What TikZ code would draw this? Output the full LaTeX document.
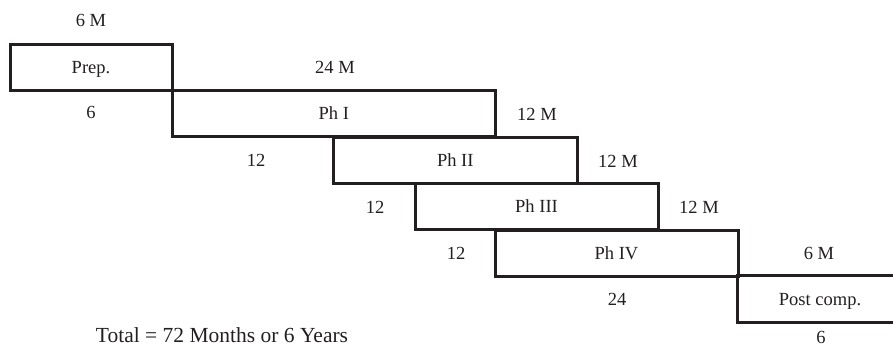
\documentclass[tikz,border=0pt]{standalone}
\usepackage{fontspec}
\setmainfont{Liberation Serif}
\definecolor{ink}{HTML}{231F20}
\begin{document}
\begin{tikzpicture}[x=1pt,y=-1pt,
  lbl/.style={inner sep=0pt, text=ink, font=\fontsize{18.5}{20}\selectfont,
    text height=12.3pt, text depth=0pt},
  phase/.style={lbl, draw=ink, line width=3pt, minimum width=#1, minimum height=46pt},
  openbox/.style={lbl, minimum width=#1, minimum height=46pt},
  edge/.style={draw=ink, line width=3pt}
]
\useasboundingbox (0,0) rectangle (893,346);
% phase boxes
\node[phase=162pt]   (prep) at (91,67)      {Prep.};
\node[phase=323.5pt] (ph1)  at (333.75,113.5) {Ph I};
\node[phase=243.5pt] (ph2)  at (455.25,160) {Ph II};
\node[phase=243pt]   (ph3)  at (536.5,206.5) {Ph III};
\node[phase=243pt]   (ph4)  at (616.5,253)  {Ph IV};
\node[openbox=155pt] (post) at (815.5,299)  {\hspace*{9pt}Post comp.};
\draw[edge] (post.north east) -- (post.north west) -- (post.south west) -- (post.south east);
% duration labels
\node[lbl] (m1) at (91,20)    {6 M};
\node[lbl] (d1) at (91,112)   {6};
\node[lbl] (m2) at (335,67.5) {24 M};
\node[lbl] (d2) at (256,160)  {12};
\node[lbl] (m3) at (537,114)  {12 M};
\node[lbl] (d3) at (375,207)  {12};
\node[lbl] (m4) at (618,161)  {12 M};
\node[lbl] (d4) at (456,253)  {12};
\node[lbl] (m5) at (699,207)  {12 M};
\node[lbl] (d5) at (617,299)  {24};
\node[lbl] (m6) at (819,253)  {6 M};
\node[lbl] (d6) at (821,337)  {6};
\node[lbl, font=\fontsize{21.5}{23}\selectfont] (total) at (222,336.5) {Total = 72 Months or 6 Years};
\end{tikzpicture}
\end{document}
